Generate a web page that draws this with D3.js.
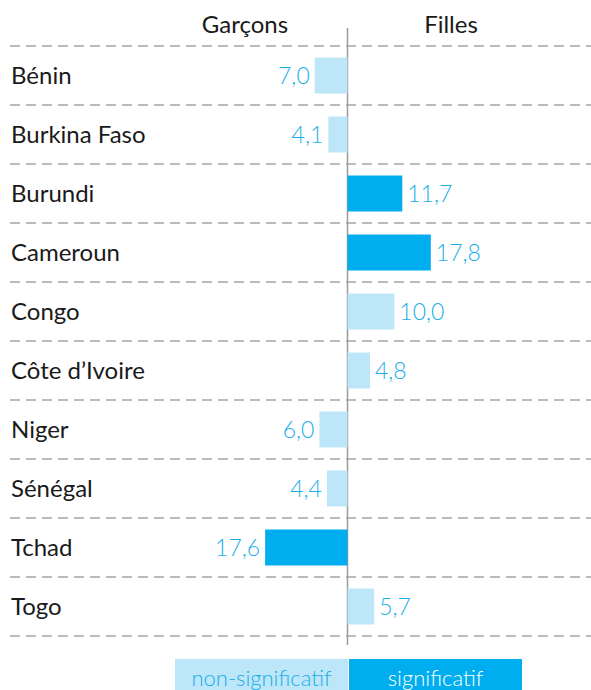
<!DOCTYPE html>
<html lang="fr">
<head>
    <meta charset="utf-8">
    <title>Garçons / Filles</title>
    <script src="https://cdn.jsdelivr.net/npm/d3@7"></script>
    <style>
        body { margin: 0; background: #fff; }
        .cat { font-family: Lato, sans-serif; font-size: 24px; fill: #1a1a1a; }
        .head { font-family: Lato, sans-serif; font-size: 24px; fill: #1a1a1a; }
        .val { font-family: Lato, sans-serif; font-weight: 300; font-size: 23px; fill: #1aaee8; }
        .grid { stroke: #a6a6a6; stroke-width: 1.5; stroke-dasharray: 10 6; }
        .leg { font-family: Lato, sans-serif; font-weight: 300; font-size: 22px; }
    </style>
</head>
<body>
<div id="chart"></div>
<script>
    const countries = ["Bénin", "Burkina Faso", "Burundi", "Cameroun", "Congo",
        "Côte d’Ivoire", "Niger", "Sénégal", "Tchad", "Togo"];
    // which side the bar goes: G = garçons (left), F = filles (right)
    const side = ["G", "G", "F", "F", "F", "F", "G", "G", "G", "F"];
    const values = [7.0, 4.1, 11.7, 17.8, 10.0, 4.8, 6.0, 4.4, 17.6, 5.7];
    const significant = [false, false, true, true, false, false, false, false, true, false];
    const headers = ["Garçons", "Filles"];
    const legendLabels = ["non-significatif", "significatif"];

    const w = 591, h = 690;
    const colSig = "#00aeef", colNon = "#bde6f8";

    const svg = d3.select("#chart").append("svg")
        .attr("width", w).attr("height", h);

    const x = d3.scaleLinear().domain([-20, 20]).range([347.5 - 93.6, 347.5 + 93.6]);
    const y = d3.scaleBand().domain(countries).range([46, 636]).paddingInner(0.39).paddingOuter(0.195);
    const rowStep = y.step();

    // dashed row separators
    svg.selectAll("line.grid")
        .data(d3.range(countries.length + 1))
        .enter().append("line")
        .attr("class", "grid")
        .attr("x1", 10).attr("x2", w)
        .attr("y1", i => 46 + i * rowStep)
        .attr("y2", i => 46 + i * rowStep);

    // centre axis
    svg.append("line")
        .attr("x1", x(0)).attr("x2", x(0))
        .attr("y1", 28).attr("y2", 645)
        .attr("stroke", "#9a9a9a").attr("stroke-width", 1.5);

    // headers
    svg.selectAll("text.head")
        .data(headers)
        .enter().append("text")
        .attr("class", "head")
        .attr("text-anchor", "middle")
        .attr("x", (d, i) => i === 0 ? 245 : 451)
        .attr("y", 33)
        .text(d => d);

    // country labels
    svg.selectAll("text.cat")
        .data(countries)
        .enter().append("text")
        .attr("class", "cat")
        .attr("x", 11)
        .attr("y", d => y(d) + y.bandwidth() / 2)
        .attr("dy", "0.36em")
        .text(d => d);

    const rows = countries.map((c, i) => ({c: c, v: side[i] === "G" ? -values[i] : values[i], sig: significant[i], raw: values[i]}));

    // bars
    svg.selectAll("rect.bar")
        .data(rows)
        .enter().append("rect")
        .attr("class", "bar")
        .attr("x", d => Math.min(x(0), x(d.v)))
        .attr("width", d => Math.abs(x(d.v) - x(0)))
        .attr("y", d => y(d.c))
        .attr("height", y.bandwidth())
        .attr("fill", d => d.sig ? colSig : colNon);

    // value labels
    const fmt = d3.format(".1f");
    svg.selectAll("text.val")
        .data(rows)
        .enter().append("text")
        .attr("class", "val")
        .attr("x", d => d.v < 0 ? x(d.v) - 5 : x(d.v) + 5)
        .attr("text-anchor", d => d.v < 0 ? "end" : "start")
        .attr("y", d => y(d.c) + y.bandwidth() / 2)
        .attr("dy", "0.36em")
        .text(d => fmt(d.raw).replace(".", ","));

    // legend
    const leg = svg.append("g").attr("transform", "translate(175,659)");
    leg.selectAll("rect")
        .data(legendLabels)
        .enter().append("rect")
        .attr("x", (d, i) => i * 174)
        .attr("width", 173).attr("height", 40)
        .attr("fill", (d, i) => i === 0 ? colNon : colSig);
    leg.selectAll("text")
        .data(legendLabels)
        .enter().append("text")
        .attr("class", "leg")
        .attr("x", (d, i) => i * 174 + 86.5)
        .attr("y", 27)
        .attr("text-anchor", "middle")
        .attr("fill", (d, i) => i === 0 ? "#1aaee8" : "#fff")
        .text(d => d);
</script>
</body>
</html>
